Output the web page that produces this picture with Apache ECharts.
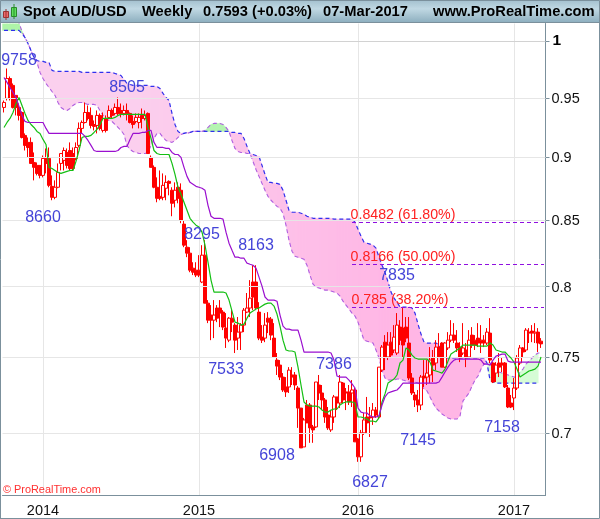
<!DOCTYPE html>
<html><head><meta charset="utf-8">
<style>html,body{margin:0;padding:0;background:#fff}#c{width:600px;height:519px}</style>
<script src="https://cdn.jsdelivr.net/npm/echarts@6/dist/echarts.min.js"></script>
</head><body><div id="c"></div>
<script>
const opens=[.9417,.9495,.9668,.9608,.9521,.9417,.9374,.9180,.9122,.9122,.8957,.8933,.8933,.8852,.8990,.8990,.8764,.8677,.8757,.8949,.8974,.9039,.9055,.9030,.8990,.9097,.9239,.9289,.9374,.9349,.9272,.9264,.9349,.9222,.9323,.9332,.9391,.9366,.9417,.9391,.9366,.9391,.9366,.9298,.9298,.9289,.9349,.9323,.9366,.8998,.8917,.8757,.8685,.8677,.8749,.8804,.8733,.8654,.8757,.8733,.8468,.8292,.8247,.8135,.8120,.8120,.8033,.8232,.7880,.7795,.7759,.7845,.7845,.7816,.7703,.7619,.7773,.7724,.7633,.7675,.7724,.7816,.7845,.8033,.8033,.7816,.7640,.7633,.7773,.7766,.7633,.7482,.7448,.7367,.7301,.7301,.7381,.7381,.7294,.7162,.6913,.7182,.7182,.7040,.7040,.7314,.7261,.7215,.7117,.7021,.7104,.7235,.7195,.7327,.7268,.7268,.7261,.7281,.6963,.6851,.7002,.7104,.7104,.7104,.7149,.7104,.7414,.7605,.7503,.7605,.7551,.7530,.7710,.7703,.7710,.7599,.7361,.7248,.7215,.7182,.7374,.7367,.7381,.7496,.7462,.7571,.7599,.7434,.7565,.7619,.7654,.7599,.7571,.7530,.7551,.7503,.7654,.7619,.7633,.7619,.7619,.7599,.7668,.7462,.7394,.7462,.7462,.7462,.7294,.7195,.7228,.7294,.7462,.7565,.7551,.7675,.7682,.7668,.7675,.7612];
const highs=[.9477,.9757,.9686,.9625,.9521,.9451,.9383,.9197,.9163,.9163,.9039,.8957,.8933,.9014,.9072,.9080,.8852,.8812,.8949,.9030,.9080,.9072,.9122,.9080,.9122,.9289,.9306,.9460,.9434,.9417,.9306,.9391,.9366,.9374,.9349,.9434,.9408,.9451,.9503,.9451,.9434,.9451,.9374,.9349,.9366,.9366,.9408,.9391,.9374,.9014,.8933,.8836,.8892,.8868,.8852,.8812,.8757,.8796,.8796,.8788,.8498,.8345,.8292,.8179,.8179,.8232,.8307,.8345,.7902,.7866,.7902,.7866,.7902,.7830,.7809,.7781,.7830,.7738,.7781,.7738,.7845,.7953,.8047,.8157,.8157,.7887,.7724,.7809,.7816,.7781,.7738,.7530,.7482,.7394,.7367,.7434,.7434,.7401,.7307,.7162,.7098,.7215,.7195,.7053,.7334,.7381,.7314,.7228,.7169,.7149,.7248,.7235,.7381,.7334,.7294,.7314,.7347,.7294,.6970,.7021,.7130,.7235,.7169,.7195,.7169,.7434,.7585,.7654,.7675,.7675,.7724,.7809,.7759,.7845,.7781,.7781,.7394,.7268,.7281,.7381,.7482,.7482,.7571,.7551,.7619,.7668,.7605,.7605,.7675,.7759,.7738,.7689,.7605,.7738,.7599,.7689,.7710,.7654,.7738,.7724,.7654,.7703,.7773,.7468,.7468,.7530,.7503,.7468,.7314,.7248,.7361,.7516,.7585,.7571,.7703,.7703,.7724,.7738,.7703,.7633];
const lows=[.9374,.9477,.9477,.9408,.9349,.9306,.9155,.9055,.8998,.8949,.8812,.8852,.8828,.8836,.8868,.8757,.8654,.8662,.8749,.8892,.8892,.8908,.8892,.8892,.8974,.9080,.9197,.9281,.9306,.9239,.9222,.9197,.9222,.9205,.9205,.9323,.9323,.9349,.9349,.9332,.9349,.9306,.9281,.9239,.9281,.9239,.9239,.9306,.9030,.8917,.8749,.8638,.8654,.8654,.8654,.8693,.8529,.8598,.8630,.8475,.8292,.8217,.8105,.8084,.8069,.8069,.8025,.7880,.7738,.7619,.7633,.7745,.7710,.7689,.7565,.7605,.7675,.7530,.7551,.7551,.7675,.7809,.7781,.7830,.7830,.7619,.7599,.7605,.7668,.7619,.7503,.7381,.7347,.7268,.7235,.7261,.7314,.7281,.7034,.6907,.6913,.7066,.6939,.6939,.7034,.7215,.7149,.7066,.7021,.7008,.7066,.7149,.7162,.7195,.7149,.7182,.7169,.6945,.6820,.6820,.6989,.7002,.6976,.7053,.7098,.7098,.7401,.7414,.7482,.7496,.7530,.7516,.7585,.7503,.7605,.7347,.7248,.7169,.7136,.7149,.7301,.7314,.7327,.7334,.7414,.7496,.7434,.7428,.7551,.7605,.7599,.7537,.7468,.7516,.7434,.7496,.7565,.7551,.7571,.7530,.7571,.7585,.7462,.7327,.7334,.7367,.7401,.7294,.7162,.7162,.7149,.7281,.7448,.7503,.7537,.7599,.7605,.7599,.7537,.7565];
const closes=[.9460,.9668,.9581,.9417,.9417,.9349,.9163,.9097,.9080,.8949,.8917,.8868,.8852,.8990,.8949,.8772,.8677,.8757,.8876,.9030,.9055,.8933,.8908,.8908,.9080,.9239,.9289,.9374,.9323,.9264,.9256,.9349,.9239,.9323,.9222,.9391,.9349,.9417,.9366,.9366,.9391,.9366,.9289,.9272,.9332,.9332,.9323,.9349,.9030,.8917,.8757,.8669,.8669,.8772,.8796,.8788,.8630,.8733,.8669,.8498,.8307,.8247,.8120,.8105,.8084,.8084,.8232,.7880,.7759,.7759,.7795,.7773,.7809,.7710,.7633,.7773,.7745,.7619,.7675,.7724,.7830,.7845,.7916,.7924,.7845,.7633,.7619,.7724,.7745,.7654,.7503,.7441,.7367,.7281,.7268,.7414,.7367,.7314,.7162,.6907,.7085,.7066,.7034,.7021,.7334,.7261,.7215,.7104,.7034,.7104,.7235,.7195,.7334,.7215,.7261,.7202,.7281,.6945,.6851,.7002,.7085,.7066,.7098,.7149,.7117,.7434,.7571,.7503,.7585,.7516,.7640,.7724,.7619,.7585,.7633,.7361,.7261,.7215,.7182,.7367,.7361,.7394,.7482,.7448,.7571,.7503,.7434,.7599,.7619,.7654,.7619,.7565,.7496,.7565,.7496,.7619,.7585,.7585,.7599,.7599,.7599,.7675,.7482,.7334,.7448,.7434,.7448,.7301,.7169,.7169,.7294,.7496,.7565,.7537,.7689,.7668,.7668,.7675,.7599,.7593];

const fastLine=[.9247,.9289,.9323,.9374,.9451,.9503,.9434,.9366,.9306,.9272,.9247,.9214,.9197,.9147,.9105,.8917,.8908,.8892,.8876,.8868,.8876,.8884,.8892,.8892,.8966,.9055,.9163,.9172,.9172,.9180,.9205,.9231,.9272,.9323,.9323,.9323,.9323,.9332,.9349,.9358,.9358,.9358,.9358,.9358,.9358,.9358,.9358,.9358,.9247,.9155,.9055,.9030,.9022,.9022,.9022,.9022,.8949,.8860,.8757,.8701,.8638,.8575,.8513,.8483,.8460,.8445,.8406,.8307,.8179,.8047,.7960,.7960,.7960,.7960,.7953,.7902,.7823,.7745,.7738,.7724,.7731,.7773,.7809,.7823,.7838,.7845,.7859,.7873,.7880,.7880,.7859,.7802,.7717,.7619,.7551,.7544,.7544,.7537,.7434,.7314,.7202,.7182,.7175,.7175,.7175,.7169,.7149,.7136,.7136,.7149,.7156,.7156,.7182,.7195,.7202,.7202,.7202,.7195,.7104,.7104,.7098,.7091,.7078,.7078,.7072,.7098,.7202,.7255,.7327,.7341,.7354,.7381,.7462,.7482,.7565,.7551,.7516,.7496,.7489,.7489,.7489,.7489,.7468,.7414,.7408,.7401,.7394,.7421,.7475,.7523,.7537,.7551,.7565,.7585,.7585,.7585,.7585,.7585,.7578,.7578,.7578,.7578,.7599,.7585,.7551,.7544,.7537,.7537,.7516,.7496,.7468,.7421,.7367,.7381,.7394,.7408,.7414,.7421,.7441,.7503];
const slowLine=[.9677,.9634,.9590,.9547,.9503,.9426,.9349,.9298,.9289,.9289,.9289,.9289,.9289,.9289,.9239,.9197,.9197,.9197,.9197,.9197,.9197,.9197,.9197,.9197,.9197,.9197,.9197,.9172,.9138,.9097,.9055,.9047,.9047,.9047,.9047,.9047,.9047,.9047,.9055,.9080,.9089,.9089,.9147,.9197,.9197,.9197,.9205,.9205,.9222,.9222,.9122,.9080,.9080,.9080,.9072,.9072,.9039,.9022,.9022,.8998,.8917,.8844,.8796,.8780,.8764,.8757,.8749,.8733,.8614,.8529,.8513,.8513,.8513,.8506,.8406,.8322,.8269,.8217,.8217,.8209,.8209,.8172,.8164,.8157,.8135,.8069,.8003,.7924,.7902,.7902,.7902,.7894,.7795,.7717,.7696,.7696,.7689,.7689,.7689,.7619,.7537,.7537,.7537,.7537,.7537,.7537,.7537,.7537,.7537,.7530,.7482,.7374,.7367,.7367,.7367,.7347,.7321,.7294,.7162,.7136,.7130,.7130,.7111,.7104,.7104,.7111,.7182,.7235,.7261,.7268,.7275,.7281,.7301,.7327,.7327,.7327,.7327,.7327,.7327,.7327,.7327,.7327,.7327,.7327,.7327,.7334,.7367,.7401,.7434,.7462,.7482,.7489,.7489,.7489,.7489,.7489,.7489,.7489,.7489,.7482,.7455,.7455,.7448,.7482,.7509,.7516,.7523,.7523,.7475,.7468,.7468,.7468,.7468,.7468,.7468,.7468,.7468,.7468,.7468,.7468];
const spanA=[1.0101,1.0101,1.0101,1.0101,1.0101,1.0101,1.0073,1.0036,.9982,.9918,.9855,.9828,.9820,.9820,.9811,.9811,.9740,.9731,.9731,.9731,.9731,.9731,.9731,.9731,.9731,.9731,.9722,.9722,.9722,.9722,.9722,.9722,.9722,.9722,.9722,.9722,.9722,.9713,.9704,.9695,.9660,.9625,.9616,.9608,.9608,.9608,.9608,.9608,.9608,.9599,.9599,.9599,.9581,.9538,.9503,.9477,.9366,.9272,.9214,.9197,.9197,.9205,.9205,.9214,.9214,.9214,.9214,.9214,.9214,.9214,.9214,.9214,.9214,.9214,.9214,.9214,.9205,.9205,.9197,.9197,.9155,.9089,.9030,.9022,.9014,.9006,.8933,.8860,.8796,.8796,.8788,.8788,.8780,.8733,.8654,.8575,.8560,.8560,.8560,.8552,.8544,.8529,.8521,.8513,.8513,.8513,.8513,.8513,.8513,.8513,.8506,.8506,.8506,.8506,.8506,.8506,.8506,.8483,.8429,.8375,.8330,.8322,.8315,.8307,.8285,.8217,.8157,.8105,.8033,.7960,.7916,.7887,.7852,.7852,.7852,.7852,.7845,.7809,.7731,.7661,.7605,.7599,.7599,.7599,.7599,.7585,.7509,.7496,.7496,.7496,.7496,.7496,.7496,.7496,.7496,.7496,.7496,.7496,.7496,.7496,.7496,.7462,.7347,.7334,.7327,.7327,.7327,.7327,.7327,.7327,.7327,.7327,.7327,.7327,.7327,.7327,.7327,.7327,.7327];
const spanB=[1.0211,1.0211,1.0211,1.0211,1.0211,1.0174,1.0091,1.0036,.9982,.9918,.9855,.9811,.9722,.9668,.9625,.9590,.9555,.9521,.9460,.9417,.9400,.9391,.9408,.9434,.9451,.9460,.9460,.9451,.9443,.9443,.9443,.9434,.9391,.9349,.9323,.9306,.9298,.9272,.9247,.9222,.9188,.9097,.9064,.9047,.9039,.9030,.9030,.9030,.9039,.9097,.9155,.9197,.9197,.9163,.9138,.9130,.9122,.9138,.9163,.9188,.9197,.9197,.9205,.9214,.9214,.9214,.9214,.9222,.9247,.9272,.9281,.9281,.9281,.9272,.9247,.9214,.9138,.9072,.9047,.9039,.9039,.9030,.9030,.8966,.8900,.8844,.8788,.8733,.8685,.8654,.8630,.8606,.8591,.8552,.8460,.8345,.8262,.8224,.8217,.8209,.8201,.8157,.8084,.8018,.7996,.7989,.7982,.7974,.7974,.7967,.7960,.7953,.7931,.7894,.7866,.7838,.7809,.7788,.7745,.7682,.7619,.7612,.7605,.7599,.7551,.7496,.7414,.7361,.7347,.7347,.7347,.7354,.7354,.7347,.7341,.7334,.7334,.7334,.7327,.7314,.7288,.7275,.7235,.7195,.7162,.7143,.7124,.7111,.7098,.7091,.7091,.7091,.7111,.7209,.7235,.7261,.7307,.7347,.7374,.7421,.7455,.7462,.7462,.7428,.7414,.7401,.7394,.7388,.7381,.7374,.7367,.7367,.7401,.7421,.7455,.7475,.7496,.7516,.7530,.7530];

const yearWeeks=[13,65,118,170];
const yearLabels=['2014','2015','2016','2017'];
const priceTicks=[1,.95,.9,.85,.8,.75,.7];
const priceGrid=[.95,.9,.85,.8,.75,.7];
const fibLevels=[.8482,.8166,.785];
const swingTexts=['9758','8505','8660','8295','8163','7533','7386','6908','6827','7835','7145','7158'];
const swingWeeks=[5,41,13,66,84,74,110,91,122,131,138,166];
const swingPrices=[.9846,.9608,.8537,.8406,.8322,.7434,.7468,.6869,.6702,.8098,.6963,.7047];
const fibTexts=['0.8482 (61.80%)','0.8166 (50.00%)','0.785 (38.20%)'];
const fibWeeks=[133,133,132];
const fibPrices=[.8544,.8224,.7909];

const N=closes.length;
const cats=Array.from({length:N+1},(_,i)=>String(i));
const candleData=closes.map((c,i)=>[opens[i],c,lows[i],highs[i]]);
const cloudData=spanA.map((a,i)=>[i,a,spanB[i]]);
const axisColor='#7b909c';
const font='"Liberation Sans",Arial,sans-serif';
const pinkAt=i=>{const t=Math.max(0,Math.min(1,(i-40)/90));return 'rgb('+Math.round(251+4*t)+','+Math.round(208-26*t)+','+Math.round(238-9*t)+')';};

const chart=echarts.init(document.getElementById('c'),null,{renderer:'canvas'});
chart.setOption({
 animation:false,
 grid:{left:2.5,right:54.5,top:23.5,bottom:23.5,containLabel:false},
 xAxis:{type:'category',data:cats,boundaryGap:true,
  axisLine:{lineStyle:{color:axisColor,width:1}},
  axisTick:{alignWithLabel:true,length:4,lineStyle:{color:axisColor},interval:i=>yearWeeks.includes(i)},
  axisLabel:{interval:i=>yearWeeks.includes(i),margin:8,color:'#111',fontFamily:font,fontSize:14.5,
    formatter:(v,i)=>yearLabels[yearWeeks.indexOf(i)]||'',hideOverlap:false},
  splitLine:{show:true,alignWithLabel:true,interval:i=>yearWeeks.includes(i),lineStyle:{color:'#e6e6e6',width:1}}},
 yAxis:{type:'log',logBase:10,position:'right',min:.6614,max:1.0165,
  axisLine:{show:true,lineStyle:{color:axisColor,width:1}},
  axisTick:{show:true,length:4,lineStyle:{color:axisColor},customValues:priceTicks},
  axisLabel:{customValues:priceTicks,margin:6,padding:[2,0,0,0],color:'#111',fontFamily:font,fontSize:14.5,
    formatter:v=>Math.abs(v-1)<1e-6?'{b|1}':String(+(+v).toFixed(2)),
    rich:{b:{fontWeight:'bold',fontSize:15.5,fontFamily:font,color:'#000',padding:[0,0,3,1]}}},
  splitLine:{show:false}},
 series:[
  {type:'custom',name:'cloud',data:cloudData,clip:true,z:1,silent:true,encode:{x:0,y:[1,2]},
   renderItem:(p,api)=>{
    const i=api.value(0); if(i>=N-1) return null;
    const a0=api.coord([i,spanA[i]]),b0=api.coord([i,spanB[i]]),a1=api.coord([i+1,spanA[i+1]]),b1=api.coord([i+1,spanB[i+1]]);
    if(i===0){a0[0]-=3;b0[0]-=3;}
    const pink=(spanA[i]+spanA[i+1])>=(spanB[i]+spanB[i+1]);
    const col=pink?pinkAt(i):(i<30?'#aef5a8':i<100?'#b4f4b0':'#d6fcd6');
    const r=p.coordSys;
    const clipped=echarts.graphic.clipPointsByRect([a0,a1,b1,b0],{x:r.x,y:r.y,width:r.width,height:r.height});
    return {type:'polygon',shape:{points:clipped},style:{fill:col,stroke:col,lineWidth:.5}};
   }},
  {type:'line',name:'gridlines',data:[],z:2,silent:true,
   markLine:{silent:true,symbol:'none',label:{show:false},animation:false,
    data:priceGrid.map(v=>({yAxis:v,lineStyle:{color:'#e6e6e6',width:1,type:'solid'}})).concat([{yAxis:1,lineStyle:{color:'#d2d2d2',width:1,type:'solid'}}])}},
  {type:'line',name:'spanB',data:spanB,z:3,showSymbol:false,silent:true,lineStyle:{color:'#b060e0',width:1.1,type:[4,3]}},
  {type:'line',name:'spanA',data:spanA,z:3,showSymbol:false,silent:true,lineStyle:{color:'#3030ee',width:1.2,type:[4,3]}},
  {type:'candlestick',name:'AUD/USD',data:candleData,z:4,barWidth:3,silent:true,
   itemStyle:{color:'#ffffff',color0:'#ff0000',borderColor:'#ff0000',borderColor0:'#ff0000',borderWidth:1}},
  {type:'line',name:'fast',data:fastLine,z:5,showSymbol:false,silent:true,lineStyle:{color:'#14bf14',width:1.2}},
  {type:'line',name:'slow',data:slowLine,z:5,showSymbol:false,silent:true,lineStyle:{color:'#9a0fcf',width:1.2}},
  {type:'line',name:'fib',data:[],z:5,silent:true,
   markLine:{silent:true,symbol:'none',label:{show:false},animation:false,lineStyle:{color:'#8f10e0',width:1,type:[4,3]},
    data:fibLevels.map(v=>[{coord:['116',v]},{coord:['180',v]}])}},
  {type:'scatter',name:'swings',z:6,silent:true,symbolSize:1,itemStyle:{color:'transparent',opacity:1},
   data:swingTexts.map((t,i)=>({value:[swingWeeks[i],swingPrices[i]],name:t})),
   label:{show:true,position:'inside',offset:[0,2],formatter:p=>p.name,color:'#4444d8',fontFamily:font,fontSize:16}},
  {type:'scatter',name:'fibLabels',z:6,silent:true,symbolSize:1,itemStyle:{color:'transparent',opacity:1},
   data:fibTexts.map((t,i)=>({value:[fibWeeks[i],fibPrices[i]],name:t})),
   label:{show:true,position:'inside',offset:[0,1],formatter:p=>p.name,color:'#ff2020',fontFamily:font,fontSize:14.2}}
 ],
 graphic:[
  {type:'rect',z:100,shape:{x:0,y:0,width:600,height:22},silent:true,
   style:{fill:new echarts.graphic.LinearGradient(0,0,0,1,[{offset:0,color:'#a3c0ce'},{offset:.4,color:'#c0d8e3'},{offset:1,color:'#8fb0c0'}])}},
  {type:'line',z:101,shape:{x1:0,y1:22.5,x2:600,y2:22.5},style:{stroke:axisColor,lineWidth:1}},
  {type:'rect',z:102,shape:{x:0.5,y:0.5,width:599,height:518},style:{fill:'none',stroke:axisColor,lineWidth:1}},
  {type:'rect',z:102,shape:{x:0,y:495,width:1,height:24},style:{fill:axisColor}},
  {type:'rect',z:103,shape:{x:3.5,y:11.5,width:5,height:6},style:{fill:'#ee6a6a',stroke:'#993333',lineWidth:1}},
  {type:'line',z:103,shape:{x1:6,y1:9,x2:6,y2:20},style:{stroke:'#993333',lineWidth:1}},
  {type:'rect',z:103,shape:{x:11.5,y:7.5,width:5,height:9},style:{fill:'#5ee05e',stroke:'#2a8a2a',lineWidth:1}},
  {type:'line',z:103,shape:{x1:14,y1:4,x2:14,y2:19},style:{stroke:'#2a8a2a',lineWidth:1}},
  ...[['Spot AUD/USD',23],['Weekly',142],['0.7593 (+0.03%)',203],['07-Mar-2017',323],['www.ProRealTime.com',433]].map(([t,x])=>(
   {type:'text',z:104,x:x,y:12,style:{text:t,fill:'#000',font:'bold 14.7px '+font,textVerticalAlign:'middle'}})),
  {type:'text',z:104,x:3,y:489.5,style:{text:'© ProRealTime.com',fill:'#ff3030',font:'10.9px '+font,textVerticalAlign:'middle'}}
 ]
});
</script></body></html>
